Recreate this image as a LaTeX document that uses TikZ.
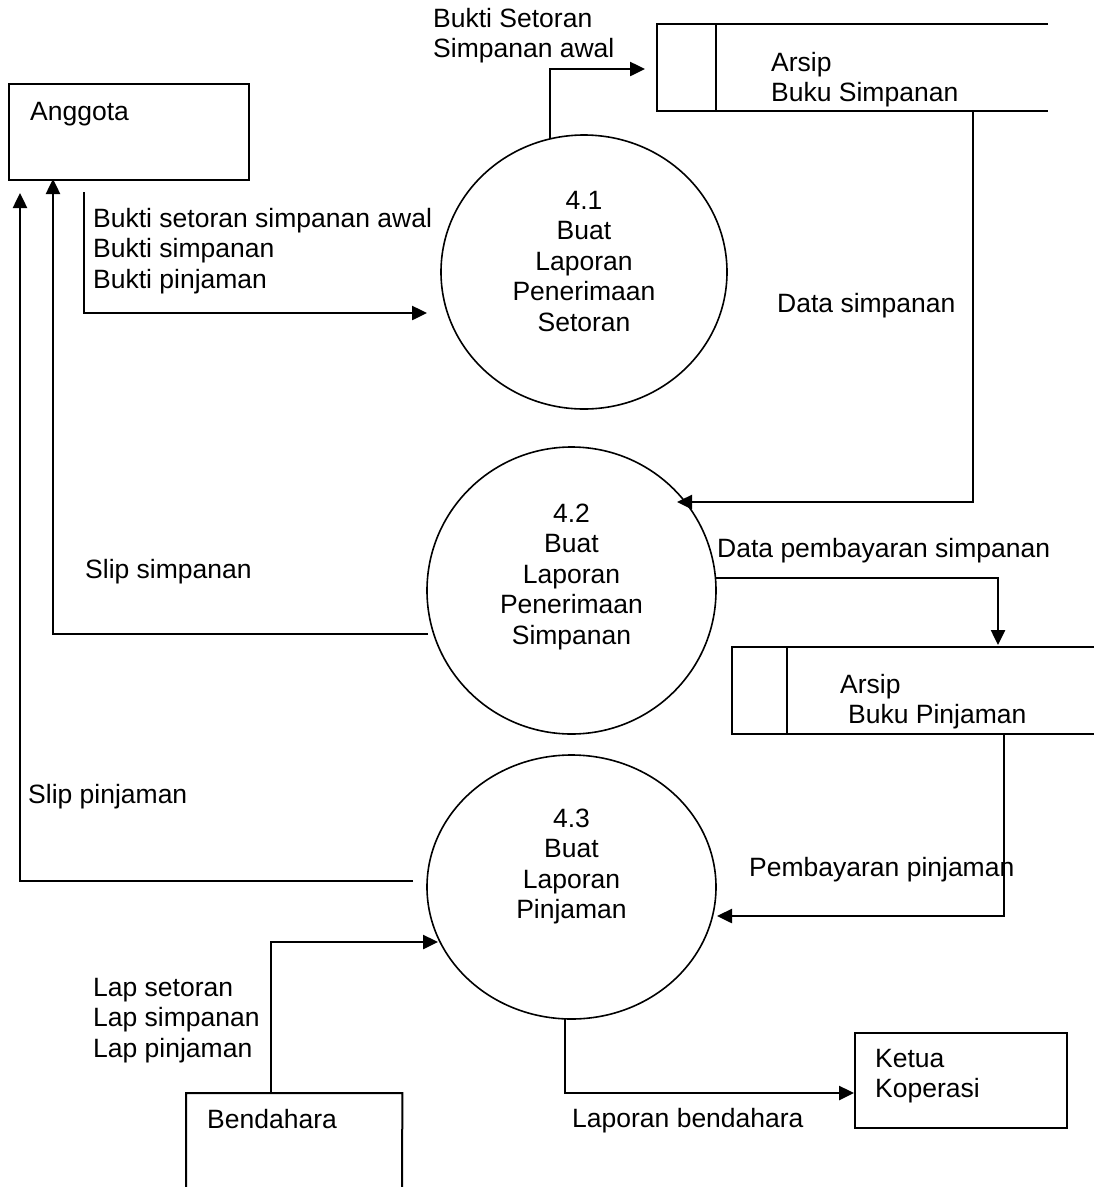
\documentclass[tikz,border=0pt]{standalone}
\usepackage{fontspec}
\setmainfont{Liberation Sans}
\usetikzlibrary{arrows.meta,shapes.geometric}
\begin{document}
\begin{tikzpicture}[x=1pt,y=-1pt,
  txt/.style={inner sep=0pt, font=\fontsize{26.5}{30.5}\selectfont},
  lbl/.style={txt, anchor=base west, align=left},
  ctr/.style={txt, anchor=base, align=center},
  entity/.style={draw, line width=2pt, inner sep=0pt, anchor=north west},
  proc/.style={draw, ellipse, line width=1.6pt, inner sep=0pt},
  flow/.style={line width=2.5pt, -{Triangle[length=15pt,width=14pt]}},
  storeline/.style={line width=2pt}]
\fill[white] (0,0) rectangle (1094,1187);
\useasboundingbox (0,0) rectangle (1094,1187);

% external entities (multi-line texts are placed by the baseline of their last line)
\node[entity, minimum width=240pt, minimum height=96pt] (anggota) at (8,83) {};
\node[lbl] (anggotaT) at (30,120) {Anggota};
\node[entity, minimum width=212pt, minimum height=95pt] (ketua) at (854,1032) {};
\node[lbl] (ketuaT) at (875,1097.5) {Ketua\\Koperasi};
\node[inner sep=0pt, anchor=north west, minimum width=216pt, minimum height=94pt] (bendahara) at (186,1093) {};
\draw[storeline] (186,1187) -- (bendahara.north west) -- (bendahara.north east) -- (402,1187);
\node[lbl] (bendaharaT) at (207,1128) {Bendahara};

% processes
\node[proc, minimum width=286pt, minimum height=274pt] (p41) at (584,272) {};
\node[ctr] (p41T) at (584,331) {4.1\\Buat\\Laporan\\Penerimaan\\Setoran};
\node[proc, minimum width=289pt, minimum height=287pt] (p42) at (571.5,590.5) {};
\node[ctr] (p42T) at (571.5,644) {4.2\\Buat\\Laporan\\Penerimaan\\Simpanan};
\node[proc, minimum width=289pt, minimum height=264pt] (p43) at (571.5,887) {};
\node[ctr] (p43T) at (571.5,918.5) {4.3\\Buat\\Laporan\\Pinjaman};

% data stores
\draw[storeline] (1048,24) -- (657,24) -- (657,111) -- (1048,111);
\draw[storeline] (716,24) -- (716,111);
\node[lbl] (ds1T) at (771,101.5) {Arsip\\Buku Simpanan};
\draw[storeline] (1094,647) -- (732,647) -- (732,734) -- (1094,734);
\draw[storeline] (787,647) -- (787,734);
\node[lbl] (ds2T) at (840,723.5) {Arsip\\\hspace*{8pt}Buku Pinjaman};

% connector end points
\coordinate (p41top) at (550,139);
\coordinate (ds1in) at (645,69);
\coordinate (anggotaOut) at (84,192);
\coordinate (p41in) at (427,313);
\coordinate (ds1out) at (973,111);
\coordinate (p42in) at (677,502);
\coordinate (p42right) at (715,578);
\coordinate (ds2in) at (998,645);
\coordinate (p42left) at (428,634);
\coordinate (anggotaIn1) at (53,179);
\coordinate (p43left) at (413,881);
\coordinate (anggotaIn2) at (20,193);
\coordinate (ds2out) at (1004,734);
\coordinate (p43in) at (717,916);
\coordinate (bendOut) at (271,1093);
\coordinate (p43in2) at (438,942);
\coordinate (p43bot) at (565,1019);
\coordinate (ketuaIn) at (854,1093);

% data flows
\draw[flow] (p41top) |- (ds1in);
\draw[flow] (anggotaOut) |- (p41in);
\draw[flow] (ds1out) |- (p42in);
\draw[flow] (p42right) -| (ds2in);
\draw[flow] (p42left) -| (anggotaIn1);
\draw[flow] (p43left) -| (anggotaIn2);
\draw[flow] (ds2out) |- (p43in);
\draw[flow] (bendOut) |- (p43in2);
\draw[flow] (p43bot) |- (ketuaIn);

% flow labels
\node[lbl] (f1) at (433,57.5) {Bukti Setoran\\Simpanan awal};
\node[lbl] (f2) at (93,288) {Bukti setoran simpanan awal\\Bukti simpanan\\Bukti pinjaman};
\node[lbl] (f3) at (777,312) {Data simpanan};
\node[lbl] (f4) at (717,557) {Data pembayaran simpanan};
\node[lbl] (f5) at (85,578) {Slip simpanan};
\node[lbl] (f6) at (28,803) {Slip pinjaman};
\node[lbl] (f7) at (749,876) {Pembayaran pinjaman};
\node[lbl] (f8) at (93,1057) {Lap setoran\\Lap simpanan\\Lap pinjaman};
\node[lbl] (f9) at (572,1127) {Laporan bendahara};
\end{tikzpicture}
\end{document}
